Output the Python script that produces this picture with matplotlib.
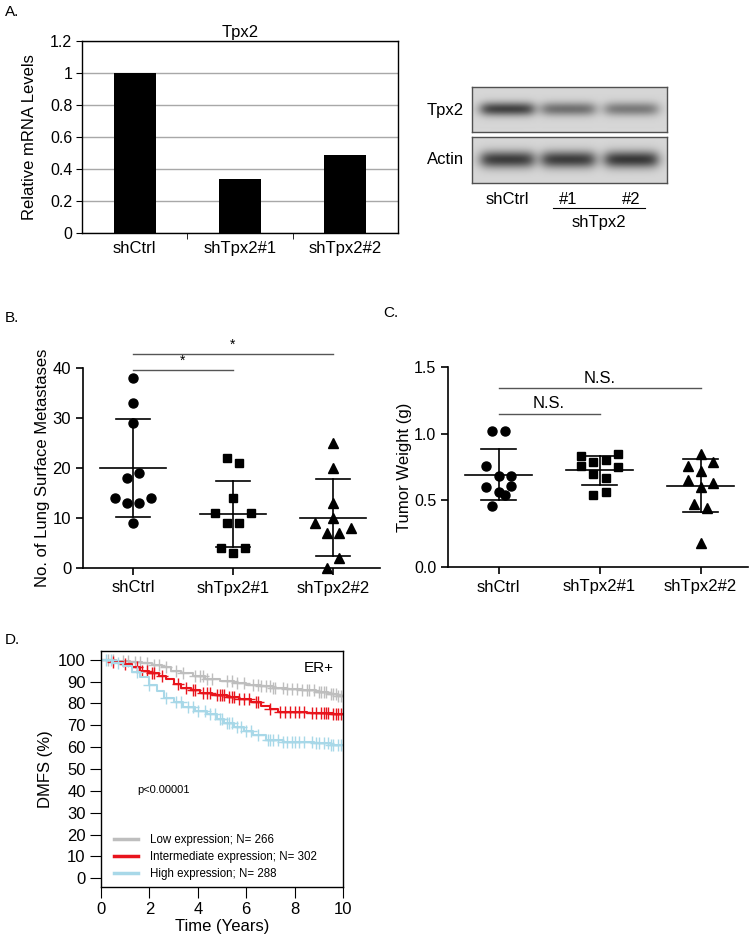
import numpy as np
import matplotlib.pyplot as plt
from matplotlib.lines import Line2D

plt.rcParams['font.family'] = ['Liberation Sans', 'DejaVu Sans']

W, H = 752, 941

# ---- panel A: qPCR ----
a_groups = ['shCtrl', 'shTpx2#1', 'shTpx2#2']
a_values = [1.0, 0.34, 0.485]

# western blot band intensities (0 = none, 1 = black)
blot_lanes = ['shCtrl', '#1', '#2']
tpx2_bands = [0.58, 0.40, 0.36]
actin_bands = [0.60, 0.60, 0.62]

# ---- panel B: lung metastases ----
b_ctrl = [38, 33, 29, 19, 18, 14, 14, 13, 13, 9]
b_ctrl_dx = [0, 0, 0, 0.06, -0.06, -0.18, 0.18, -0.06, 0.06, 0]
b_sh1 = [22, 21, 14, 11, 11, 9, 9, 4, 4, 3]
b_sh1_dx = [-0.06, 0.06, 0, -0.18, 0.18, -0.06, 0.06, -0.12, 0.12, 0]
b_sh2 = [25, 20, 13, 10, 9, 7, 7, 8, 2, 0]
b_sh2_dx = [0, 0, 0, 0, -0.18, -0.06, 0.06, 0.18, 0.06, -0.06]

# ---- panel C: tumor weight ----
c_ctrl = [1.02, 1.02, 0.76, 0.68, 0.68, 0.60, 0.61, 0.56, 0.54, 0.46]
c_ctrl_dx = [-0.06, 0.06, -0.12, 0, 0.12, -0.12, 0.12, 0, 0.06, -0.06]
c_sh1 = [0.83, 0.85, 0.79, 0.80, 0.76, 0.75, 0.70, 0.67, 0.54, 0.56]
c_sh1_dx = [-0.18, 0.18, -0.06, 0.06, -0.18, 0.18, -0.06, 0.06, -0.06, 0.06]
c_sh2 = [0.85, 0.76, 0.79, 0.72, 0.65, 0.63, 0.60, 0.47, 0.44, 0.18]
c_sh2_dx = [0, -0.12, 0.12, 0, -0.12, 0.12, 0, -0.06, 0.06, 0]

# ---- panel D: KM curves (step knots) ----
low_t = [0, 0.6, 1.2, 1.7, 2.1, 2.5, 2.9, 3.3, 3.8, 4.3, 4.9, 5.5, 6.0, 6.6, 7.1, 7.7, 8.3, 8.9, 9.4, 9.8]
low_s = [100, 99.5, 99, 98.5, 97.5, 96.5, 95, 93.8, 92.5, 91.2, 90.3, 89.5, 88.6, 87.8, 87, 86.4, 86, 85.3, 84.5, 83.2]
int_t = [0, 0.4, 0.9, 1.3, 1.6, 2.0, 2.4, 2.7, 3.0, 3.3, 3.7, 4.1, 4.6, 5.2, 5.7, 6.2, 6.6, 7.0, 7.3, 8.5, 9.6]
int_s = [100, 99, 98, 96.5, 95, 94, 92.5, 91, 89, 87, 86, 85, 84, 83, 82, 80.5, 79, 77.5, 76, 75.8, 75]
high_t = [0, 0.5, 0.9, 1.3, 1.6, 2.0, 2.3, 2.6, 3.0, 3.4, 3.9, 4.4, 4.8, 5.1, 5.5, 5.9, 6.3, 6.8, 7.5, 8.8, 9.5]
high_s = [100, 98.5, 97, 94.5, 92, 88.5, 85.5, 82.5, 80.5, 78.5, 76.5, 75, 73, 71, 69, 67.5, 65.5, 63.3, 62.5, 62, 61]

low_cens = [0.3, 0.5, 0.9, 1.1, 1.4, 1.6, 1.9, 2.2, 2.4, 2.7, 3.1, 3.4, 3.9, 4.1, 4.2, 4.4, 4.6, 5.2, 5.4, 5.6,
            5.9, 6.3, 6.5, 6.6, 6.8, 7.0, 7.1, 7.2, 7.5, 7.7, 7.9, 8.1, 8.3, 8.5, 8.6, 8.8, 9.0, 9.1, 9.2, 9.3,
            9.5, 9.6, 9.7, 9.8, 9.9]
int_cens = [0.5, 1.0, 1.5, 1.7, 1.9, 2.1, 2.2, 2.5, 3.2, 3.5, 3.8, 3.9, 4.2, 4.4, 4.5, 4.8, 4.9, 5.0, 5.1, 5.3,
            5.4, 5.5, 5.7, 5.9, 6.1, 6.4, 6.5, 7.0, 7.4, 7.6, 7.8, 8.0, 8.2, 8.4, 8.7, 8.9, 9.1, 9.2, 9.3, 9.4,
            9.6, 9.7, 9.8, 9.9]
high_cens = [0.2, 0.4, 0.7, 1.5, 2.0, 2.7, 3.1, 3.3, 3.6, 3.8, 4.0, 4.3, 4.5, 4.7, 4.9, 5.0, 5.2, 5.3, 5.4, 5.6,
             5.8, 6.0, 6.2, 6.5, 6.9, 7.0, 7.1, 7.3, 7.5, 7.7, 7.9, 8.0, 8.2, 8.4, 8.7, 8.9, 9.0, 9.2, 9.4, 9.5,
             9.6, 9.8, 9.9]


def box(x0, y0, x1, y1):
    # pixel box (top-left origin) -> figure rect
    return [x0 / W, 1 - y1 / H, (x1 - x0) / W, (y1 - y0) / H]


def ftext(x, y, s, **kw):
    fig.text(x / W, 1 - y / H, s, **kw)


fig = plt.figure(figsize=(W / 100, H / 100), dpi=100)

# panel labels
ftext(5, 12, 'A.', fontsize=11, va='center')
ftext(5, 318, 'B.', fontsize=11, va='center')
ftext(383, 313, 'C.', fontsize=11, va='center')
ftext(5, 640, 'D.', fontsize=11, va='center')

# ================= A: bar chart =================
ax = fig.add_axes(box(82, 41, 398, 233))
x = np.arange(len(a_groups))
ax.set_axisbelow(True)
ax.bar(x, a_values, width=0.4, color='black')
ax.set_xlim(-0.5, 2.5)
ax.set_ylim(0, 1.2)
ax.set_yticks(np.arange(0, 1.21, 0.2))
ax.set_yticklabels(['0', '0.2', '0.4', '0.6', '0.8', '1', '1.2'])
ax.yaxis.grid(True, color='#a8a8a8', linewidth=1)
ax.set_xticks(x)
ax.set_xticklabels(a_groups)
ax.tick_params(axis='x', length=0, pad=6, labelsize=12)
ax.set_xticks([0.5, 1.5], minor=True)
ax.tick_params(axis='x', which='minor', length=4, direction='out')
ax.tick_params(axis='y', length=4, direction='out', labelsize=11.5, pad=3)
for s in ax.spines.values():
    s.set_linewidth(1)
ax.set_ylabel('Relative mRNA Levels', fontsize=12)
ax.yaxis.set_label_coords(-0.142, 0.5)
ax.set_title('Tpx2', fontsize=12, pad=3)

# ================= A: western blot =================
lane_c = [35, 96, 159]
lane_w = 52


def strip(rect, bands, yc, hh):
    axb = fig.add_axes(rect)
    nx, ny = 195, 46
    xx = np.arange(nx)
    yy = np.arange(ny)
    img = np.full((ny, nx), 0.84)
    for c, a in zip(lane_c, bands):
        px_ = 1 / (1 + np.exp(-(xx - (c - lane_w / 2)) / 3.5)) * 1 / (1 + np.exp((xx - (c + lane_w / 2)) / 3.5))
        py_ = np.exp(-((yy - yc) / hh) ** 2)
        img -= a * np.outer(py_, px_)
    axb.imshow(img, cmap='gray', vmin=0, vmax=1, aspect='auto', interpolation='bilinear')
    axb.set_xticks([])
    axb.set_yticks([])
    for s in axb.spines.values():
        s.set_color('#505050')
        s.set_linewidth(1)
    return axb


strip(box(472, 87, 667, 132), tpx2_bands, 22, 7)
strip(box(472, 137, 667, 183), actin_bands, 22, 8.5)
ftext(464, 110, 'Tpx2', fontsize=12, ha='right', va='center')
ftext(464, 160, 'Actin', fontsize=12, ha='right', va='center')
for c, lab in zip(lane_c, blot_lanes):
    ftext(472 + c, 200, lab, fontsize=12, ha='center', va='center')
fig.add_artist(Line2D([553 / W, 645 / W], [1 - 208 / H, 1 - 208 / H], color='black', linewidth=0.8))
ftext(599, 222, 'shTpx2', fontsize=12, ha='center', va='center')


# ================= B & C: dot plots =================
def dotplot(ax, groups, dxs, markers):
    for i, (vals, dx, m) in enumerate(zip(groups, dxs, markers)):
        vals = np.array(vals)
        ax.plot(i + np.array(dx), vals, linestyle='none', marker=m, color='black',
                markersize=6.5 if m != 's' else 6, clip_on=False, zorder=3)
        mu = vals.mean()
        sd = vals.std(ddof=1)
        ax.plot([i - 0.33, i + 0.33], [mu, mu], color='black', linewidth=1.2)
        ax.plot([i, i], [mu - sd, mu + sd], color='black', linewidth=1.2)
        for y in (mu - sd, mu + sd):
            ax.plot([i - 0.17, i + 0.17], [y, y], color='black', linewidth=1.2)
    ax.set_xlim(-0.5, 2.47)
    ax.set_xticks(range(3))
    ax.set_xticklabels(['shCtrl', 'shTpx2#1', 'shTpx2#2'])
    ax.spines['top'].set_visible(False)
    ax.spines['right'].set_visible(False)
    for s in ('left', 'bottom'):
        ax.spines[s].set_linewidth(1.2)
    ax.tick_params(length=5, width=1.2, labelsize=12, direction='out')
    ax.tick_params(axis='x', pad=4)


axB = fig.add_axes(box(83, 368, 380, 568))
dotplot(axB, [b_ctrl, b_sh1, b_sh2], [b_ctrl_dx, b_sh1_dx, b_sh2_dx], ['o', 's', '^'])
axB.set_ylim(0, 40)
axB.set_yticks([0, 10, 20, 30, 40])
axB.set_ylabel('No. of Lung Surface Metastases', fontsize=12)
axB.yaxis.set_label_coords(-0.111, 0.5)
axB.plot([0, 1], [39.6, 39.6], color='#555555', linewidth=1, clip_on=False)
axB.plot([0, 2], [42.8, 42.8], color='#555555', linewidth=1, clip_on=False)
axB.text(0.5, 40.1, '*', ha='center', va='bottom', fontsize=10)
axB.text(1.0, 43.2, '*', ha='center', va='bottom', fontsize=10)

axC = fig.add_axes(box(448, 367, 748, 567))
dotplot(axC, [c_ctrl, c_sh1, c_sh2], [c_ctrl_dx, c_sh1_dx, c_sh2_dx], ['o', 's', '^'])
axC.set_ylim(0, 1.5)
axC.set_yticks([0, 0.5, 1.0, 1.5])
axC.set_yticklabels(['0.0', '0.5', '1.0', '1.5'])
axC.tick_params(axis='y', labelsize=11.5)
axC.set_ylabel('Tumor Weight (g)', fontsize=12)
axC.yaxis.set_label_coords(-0.12, 0.5)
axC.plot([0, 1], [1.15, 1.15], color='#555555', linewidth=1)
axC.plot([0, 2], [1.343, 1.343], color='#555555', linewidth=1)
axC.text(0.5, 1.17, 'N.S.', ha='center', va='bottom', fontsize=12)
axC.text(1.0, 1.36, 'N.S.', ha='center', va='bottom', fontsize=12)

# ================= D: Kaplan-Meier =================
axD = fig.add_axes(box(101, 651, 343, 887))
km = [
    (low_t, low_s, low_cens, '#bebebe', 'Low expression; N= 266'),
    (int_t, int_s, int_cens, '#e8141c', 'Intermediate expression; N= 302'),
    (high_t, high_s, high_cens, '#a8d8e8', 'High expression; N= 288'),
]
handles = []
for t, s, cens, col, lab in km:
    t_full = list(t) + [10]
    s_full = list(s) + [s[-1]]
    axD.step(t_full, s_full, where='post', color=col, linewidth=1.5)
    idx = np.searchsorted(t, cens, side='right') - 1
    axD.plot(cens, np.array(s)[idx], linestyle='none', marker='+', color=col,
             markersize=8.5, markeredgewidth=1)
    handles.append(Line2D([], [], color=col, linewidth=2.5, label=lab))
axD.set_xlim(0, 10)
axD.set_ylim(-4, 104)
axD.set_xticks(range(0, 11, 2))
axD.set_yticks(range(0, 101, 10))
axD.tick_params(length=8, width=0.8, labelsize=12, direction='out', pad=3)
for s in axD.spines.values():
    s.set_linewidth(1)
axD.set_xlabel('Time (Years)', fontsize=12)
axD.xaxis.set_label_coords(0.5, -0.135)
axD.set_ylabel('DMFS (%)', fontsize=12)
axD.yaxis.set_label_coords(-0.198, 0.5)
axD.text(0.15, 0.41, 'p<0.00001', transform=axD.transAxes, fontsize=8, va='center')
axD.text(0.96, 0.93, 'ER+', transform=axD.transAxes, fontsize=11, ha='right', va='center')
axD.legend(handles=handles, loc='lower left', bbox_to_anchor=(0.02, -0.005), frameon=False,
           fontsize=8.3, handlelength=2.1, handletextpad=1.0, labelspacing=0.45, borderpad=0.2)

fig.savefig('out.png', dpi=100)
